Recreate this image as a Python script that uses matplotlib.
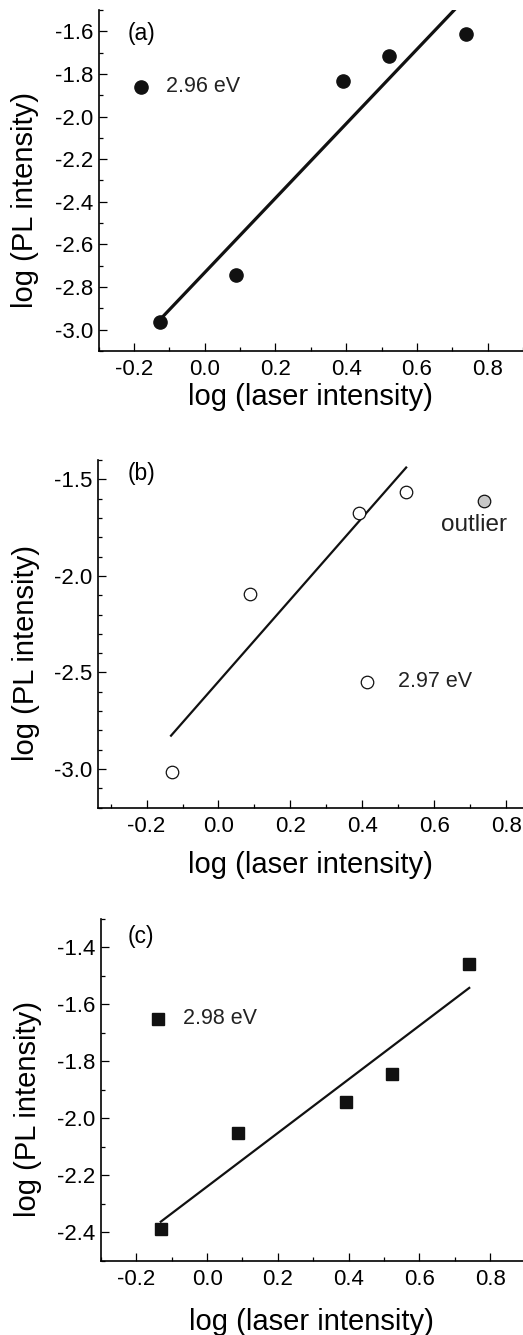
import matplotlib
matplotlib.use("Agg")
import matplotlib.pyplot as plt
from matplotlib.ticker import MultipleLocator

plt.rcParams['font.family'] = ['Liberation Sans', 'DejaVu Sans']
plt.rcParams['axes.unicode_minus'] = False

# ---- data ----
laser_a = [-0.128, 0.088, 0.392, 0.522, 0.740]
pl_a = [-2.966, -2.744, -1.835, -1.714, -1.614]
fit_a_x = [-0.128, 0.740]
fit_a_y = [-2.955, -1.440]
label_a = "2.96 eV"

laser_b = [-0.130, 0.088, 0.390, 0.521]
pl_b = [-3.017, -2.093, -1.676, -1.566]
outlier_b_x = [0.739]
outlier_b_y = [-1.611]
fit_b_x = [-0.132, 0.522]
fit_b_y = [-2.827, -1.439]
label_b = "2.97 eV"

laser_c = [-0.131, 0.087, 0.392, 0.522, 0.739]
pl_c = [-2.388, -2.053, -1.943, -1.843, -1.458]
fit_c_x = [-0.131, 0.741]
fit_c_y = [-2.363, -1.542]
label_c = "2.98 eV"

xlabel = "log (laser intensity)"
ylabel = "log (PL intensity)"

W, H = 523, 1335
fig = plt.figure(figsize=(W / 100, H / 100), dpi=100)


def make_ax(left_px, top_px, bottom_px, xlim, ylim, ymajor):
    ax = fig.add_axes([left_px / W, 1 - bottom_px / H, 1 - left_px / W, (bottom_px - top_px) / H])
    ax.set_xlim(*xlim)
    ax.set_ylim(*ylim)
    for s in ['top', 'right']:
        ax.spines[s].set_visible(False)
    for s in ['left', 'bottom']:
        ax.spines[s].set_linewidth(1.2)
    ax.xaxis.set_major_locator(MultipleLocator(0.2))
    ax.xaxis.set_minor_locator(MultipleLocator(0.1))
    ax.yaxis.set_major_locator(MultipleLocator(ymajor))
    ax.yaxis.set_minor_locator(MultipleLocator(0.1))
    ax.tick_params(which='both', direction='in', top=False, right=False, width=0.9)
    ax.tick_params(which='major', length=5.5, labelsize=16)
    ax.tick_params(which='minor', length=3)
    ax.tick_params(axis='x', which='major', pad=6)
    ax.tick_params(axis='y', which='major', pad=4)
    return ax


def labels(ax, xl, yl):
    ax.set_xlabel(xlabel, fontsize=21)
    ax.set_ylabel(ylabel, fontsize=21)
    ax.xaxis.label.set_va('center')
    ax.yaxis.label.set_va('center')
    ax.xaxis.set_label_coords(*xl)
    ax.yaxis.set_label_coords(*yl)


# ---- panel (a) ----
ax = make_ax(98.7, 10, 351, (-0.3, 0.9), (-3.1, -1.5), 0.2)
ax.plot(fit_a_x, fit_a_y, color='#111111', lw=2.3)
ax.plot(laser_a, pl_a, 'o', color='#111111', ms=9.5)
ax.plot([-0.179], [-1.859], 'o', color='#111111', ms=9.5)
ax.text(-0.110, -1.859, label_a, fontsize=15.5, va='center', ha='left', color='#222222')
ax.text(0.068, 0.932, "(a)", transform=ax.transAxes, fontsize=16.5, va='center', ha='left')
labels(ax, (0.50, -0.135), (-0.174, 0.443))

# ---- panel (b) ----
ax = make_ax(97.7, 460, 807.7, (-0.336, 0.847), (-3.2, -1.4), 0.5)
ax.plot(fit_b_x, fit_b_y, color='#111111', lw=1.6)
ax.plot(laser_b, pl_b, 'o', mfc='white', mec='#111111', mew=0.9, ms=9)
ax.plot(outlier_b_x, outlier_b_y, 'o', mfc='#c8c8c8', mec='#111111', mew=0.9, ms=9)
ax.plot([0.414], [-2.549], 'o', mfc='white', mec='#111111', mew=0.9, ms=9)
ax.text(0.4986, -2.549, label_b, fontsize=15.5, va='center', ha='left', color='#222222')
ax.text(0.712, -1.739, "outlier", fontsize=17.5, va='center', ha='center', color='#222222')
ax.text(0.0705, 0.96, "(b)", transform=ax.transAxes, fontsize=16.5, va='center', ha='left')
labels(ax, (0.50, -0.165), (-0.169, 0.445))

# ---- panel (c) ----
ax = make_ax(101, 919, 1260.7, (-0.3, 0.893), (-2.5, -1.3), 0.2)
ax.plot(fit_c_x, fit_c_y, color='#111111', lw=1.6)
ax.plot(laser_c, pl_c, 's', color='#111111', ms=9)
ax.plot([-0.140], [-1.651], 's', color='#111111', ms=8.5)
ax.text(-0.068, -1.651, label_c, fontsize=15.5, va='center', ha='left', color='#222222')
ax.text(0.063, 0.948, "(c)", transform=ax.transAxes, fontsize=16.5, va='center', ha='left')
labels(ax, (0.498, -0.1785), (-0.173, 0.444))

fig.savefig("out.png", dpi=100)
